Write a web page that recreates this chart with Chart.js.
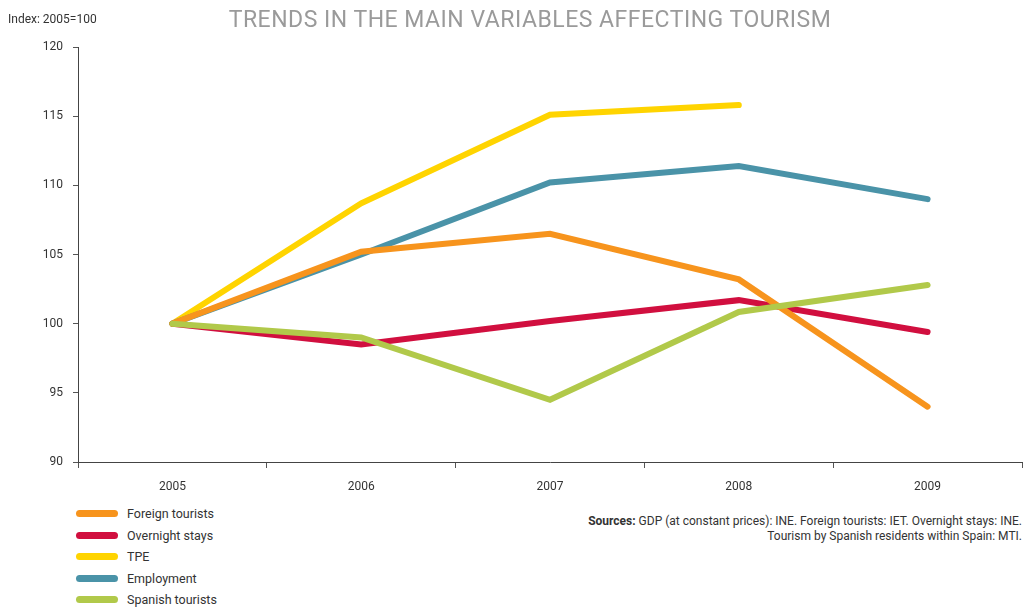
<!DOCTYPE html>
<html>
<head>
<meta charset="utf-8">
<script src="https://cdn.jsdelivr.net/npm/chart.js@4.4.0/dist/chart.umd.min.js"></script>
<style>
  body { margin: 0; width: 1024px; height: 609px; background: #fff; position: relative; overflow: hidden; font-family: Roboto, "DejaVu Sans", sans-serif; color: #333; }
  #wrap { position: absolute; left: 0; top: 0; width: 1024px; height: 500px; }
  #title { position: absolute; left: 0; width: 1060px; top: 6px; text-align: center; font-size: 23px; color: #9a9a9a; letter-spacing: 0.5px; }
  #index { position: absolute; left: 8px; top: 12px; font-size: 12px; color: #333; }
  #legend { position: absolute; left: 76px; top: 503px; font-size: 12.5px; }
  .item { height: 21.5px; display: flex; align-items: center; }
  .sw { width: 42px; height: 7px; border-radius: 4px; margin-right: 9px; }
  #sources { position: absolute; right: 2px; top: 514px; text-align: right; font-size: 12px; line-height: 15px; color: #333; }
</style>
</head>
<body>
<div id="wrap"><canvas id="trendChart" width="1024" height="500"></canvas></div>
<div id="title">TRENDS IN THE MAIN VARIABLES AFFECTING TOURISM</div>
<div id="index">Index: 2005=100</div>
<div id="legend"></div>
<div id="sources"><b>Sources:</b> GDP (at constant prices): INE. Foreign tourists: IET. Overnight stays: INE.<br>Tourism by Spanish residents within Spain: MTI.</div>
<script>
// --- Data ---
const years = ['2005', '2006', '2007', '2008', '2009'];
const yTicks = [90, 95, 100, 105, 110, 115, 120];

const foreignTourists = [100, 105.2, 106.5, 103.2, 94.0];
const overnightStays = [100, 98.5, 100.2, 101.7, 99.4];
const tpe = [100, 108.7, 115.1, 115.8, null];
const employment = [100, 105.0, 110.2, 111.4, 109.0];
const spanishTourists = [100, 99.0, 94.5, 100.85, 102.8];

const seriesNames = ['Foreign tourists', 'Overnight stays', 'TPE', 'Employment', 'Spanish tourists'];
const seriesValues = [foreignTourists, overnightStays, tpe, employment, spanishTourists];
const seriesColors = ['#F7941D', '#D10F3F', '#FFD400', '#4A93A8', '#B1C94A'];
const drawOrder = [1, 2, 4, 3, 0];

// --- Legend ---
const legend = document.getElementById('legend');
seriesNames.forEach((name, i) => {
  const div = document.createElement('div');
  div.className = 'item';
  div.innerHTML = `<span class="sw" style="background:${seriesColors[i]}"></span>${name}`;
  legend.appendChild(div);
});

// --- Chart ---
const ctx = document.getElementById('trendChart');
const tickFont = { family: 'Roboto, "DejaVu Sans", sans-serif', size: 12 };

new Chart(ctx, {
  type: 'line',
  data: {
    labels: years,
    datasets: seriesNames.map((name, i) => ({
      label: name,
      data: seriesValues[i],
      borderColor: seriesColors[i],
      backgroundColor: seriesColors[i],
      borderWidth: 6,
      borderCapStyle: 'round',
      borderJoinStyle: 'miter',
      pointRadius: 0,
      tension: 0,
      fill: false,
      order: drawOrder[i]
    }))
  },
  options: {
    responsive: false,
    animation: false,
    maintainAspectRatio: false,
    layout: { padding: { top: 47, right: 2, left: 0, bottom: 0 } },
    plugins: { legend: { display: false }, tooltip: { enabled: false } },
    scales: {
      x: {
        offset: true,
        grid: { offset: true, drawOnChartArea: false, tickLength: 6, color: '#555' },
        border: { color: '#444', width: 1 },
        ticks: { color: '#333', font: tickFont, padding: 12 },
        afterFit: s => { s.height = 38; }
      },
      y: {
        min: 90, max: 120,
        afterBuildTicks: s => { s.ticks = yTicks.map(v => ({ value: v })); },
        grid: { drawOnChartArea: false, tickLength: 5, color: '#555' },
        border: { color: '#444', width: 1 },
        ticks: { color: '#333', font: tickFont, padding: 10 },
        afterFit: s => { s.width = 78; }
      }
    }
  }
});
</script>
</body>
</html>
